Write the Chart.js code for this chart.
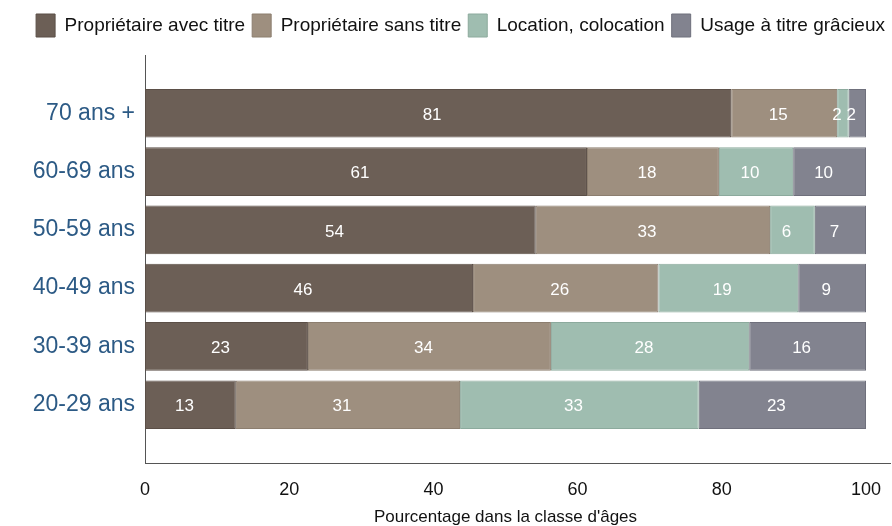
<!DOCTYPE html>
<html lang="fr">
<head>
  <meta charset="utf-8" />
  <title>Statut d'occupation par classe d'âges</title>
  <script src="https://cdn.jsdelivr.net/npm/chart.js@4.4.1/dist/chart.umd.min.js"></script>
  <style>
    html, body { margin: 0; padding: 0; background: #fff; }
    #wrap { position: relative; width: 892px; height: 526px; }
  </style>
</head>
<body>
  <div id="wrap"><canvas id="c"></canvas></div>
  <script>
    // classes d'âges, du haut vers le bas
    const ages = ['70 ans +', '60-69 ans', '50-59 ans', '40-49 ans', '30-39 ans', '20-29 ans'];

    // valeurs (%)
    const avecTitre = [81.3, 61.3, 54.2, 45.5, 22.6, 12.6];
    const sansTitre = [14.7, 18.3, 32.5, 25.7, 33.7, 31.1];
    const locationColoc = [1.6, 10.3, 6.2, 19.4, 27.5, 33.1];
    const gracieux = [2.4, 10.1, 7.1, 9.4, 16.2, 23.2];

    const xTicks = [0, 20, 40, 60, 80, 100];

    // une catégorie vide en haut et en bas pour laisser de l'air autour des barres
    const pad = (arr) => [null, ...arr, null];
    const labels = ['', ...ages, ''];

    const FONT = "'Liberation Sans', Arial, sans-serif";

    const barLabels = {
      id: 'barLabels',
      afterDatasetsDraw(chart) {
        const { ctx } = chart;
        ctx.save();
        ctx.font = '17px ' + FONT;
        ctx.fillStyle = '#ffffff';
        ctx.textAlign = 'center';
        ctx.textBaseline = 'middle';
        chart.data.datasets.forEach((ds, i) => {
          const meta = chart.getDatasetMeta(i);
          meta.data.forEach((el, j) => {
            const v = ds.data[j];
            if (v == null) return;
            const p = el.getCenterPoint();
            ctx.fillText(String(Math.round(v)), p.x - 6, p.y + 2);
          });
        });
        ctx.restore();
      }
    };

    // l'axe des x se prolonge jusqu'au bord droit
    const axisTail = {
      id: 'axisTail',
      afterDraw(chart) {
        const { ctx, chartArea } = chart;
        ctx.save();
        ctx.strokeStyle = '#555';
        ctx.lineWidth = 1;
        ctx.beginPath();
        ctx.moveTo(chartArea.right, chartArea.bottom + 0.5);
        ctx.lineTo(chart.width - 1, chartArea.bottom + 0.5);
        ctx.stroke();
        ctx.restore();
      }
    };

    // un peu plus d'espace sous la légende
    const legendGap = {
      id: 'legendGap',
      beforeLayout(chart) {
        const lg = chart.legend;
        if (!lg || lg._gapPatched) return;
        const fit = lg.fit;
        lg.fit = function () {
          fit.call(this);
          this.height += 8;
        };
        lg._gapPatched = true;
      }
    };

    const mk = (label, data, bg, border) => ({
      label,
      data: pad(data),
      backgroundColor: bg,
      borderColor: border,
      borderWidth: 1,
      borderSkipped: false,
      categoryPercentage: 0.835,
      barPercentage: 1
    });

    new Chart(document.getElementById('c'), {
      type: 'bar',
      data: {
        labels,
        datasets: [
          mk('Propriétaire avec titre', avecTitre, '#6c5f56', '#5b4f47'),
          mk('Propriétaire sans titre', sansTitre, '#9e8f7f', '#8c7e6f'),
          mk('Location, colocation', locationColoc, '#9fbdb0', '#8caa9d'),
          mk('Usage à titre grâcieux', gracieux, '#82838f', '#6f707c')
        ]
      },
      plugins: [barLabels, axisTail, legendGap],
      options: {
        indexAxis: 'y',
        responsive: true,
        maintainAspectRatio: false,
        animation: false,
        layout: { padding: { left: 0, right: 0, top: 7, bottom: 0 } },
        plugins: {
          legend: {
            position: 'top',
            align: 'end',
            labels: {
              font: { family: FONT, size: 19 },
              color: '#111',
              boxWidth: 19,
              boxHeight: 23,
              padding: 7
            }
          },
          tooltip: { enabled: false }
        },
        scales: {
          x: {
            stacked: true,
            min: 0,
            max: 100,
            afterBuildTicks: (s) => { s.ticks = xTicks.map((v) => ({ value: v })); },
            afterFit: (s) => { s.paddingRight = 26; },
            grid: { display: false, drawTicks: false },
            border: { display: true, color: '#555', width: 1 },
            ticks: { font: { family: FONT, size: 18 }, color: '#111', padding: 16 },
            title: {
              display: true,
              text: "Pourcentage dans la classe d'âges",
              font: { family: FONT, size: 17 },
              color: '#111',
              padding: { top: -9, bottom: -2 }
            }
          },
          y: {
            stacked: true,
            offset: false,
            afterFit: (s) => { s.width = 145; },
            grid: { display: false, drawTicks: false },
            border: { display: true, color: '#555', width: 1 },
            ticks: { font: { family: FONT, size: 23 }, color: '#2c5a85', padding: 10 }
          }
        }
      }
    });
  </script>
</body>
</html>
